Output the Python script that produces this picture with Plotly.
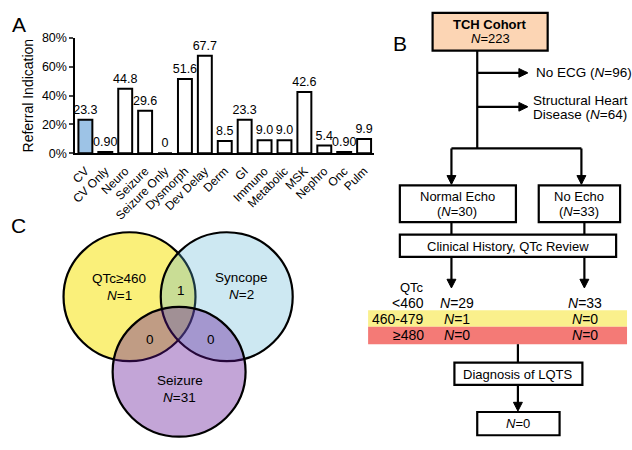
import plotly.graph_objects as go

# Panel A data
categories = ['CV', 'CV Only', 'Neuro', 'Seizure', 'Seizure Only', 'Dysmorph', 'Dev Delay',
              'Derm', 'GI', 'Immuno', 'Metabolic', 'MSK', 'Nephro', 'Onc', 'Pulm']
percent = [23.3, 0.90, 44.8, 29.6, 0, 51.6, 67.7, 8.5, 23.3, 9.0, 9.0, 42.6, 5.4, 0.90, 9.9]
labels = ['23.3', '0.90', '44.8', '29.6', '0', '51.6', '67.7', '8.5', '23.3', '9.0', '9.0',
          '42.6', '5.4', '0.90', '9.9']
y_ticks = [0, 20, 40, 60, 80]
y_ticktext = ['0%', '20%', '40%', '60%', '80%']

# Panel B counts
cohort_n = 223
no_ecg_n = 96
structural_n = 64
normal_echo_n = 30
no_echo_n = 33
qtc_rows = ['<460', '460-479', '≥480']
normal_echo_qtc = [29, 1, 0]
no_echo_qtc = [33, 0, 0]
lqts_n = 0

# Panel C counts
venn_sets = ['QTc≥460', 'Syncope', 'Seizure']
venn_n = [1, 2, 31]
venn_overlaps = [1, 0, 0]  # QTc&Syncope, QTc&Seizure, Syncope&Seizure

W, H = 632, 450
FONT = 'Arial, Liberation Sans, sans-serif'


def px(x):
    return x / W


def py(y):
    return 1 - y / H


bar_colors = ['#9DC3E6'] + ['white'] * (len(categories) - 1)

fig = go.Figure(go.Bar(
    x=categories, y=percent, text=labels, textposition='outside',
    textfont=dict(size=12.5, color='black'), cliponaxis=False, constraintext='none',
    marker=dict(color=bar_colors, line=dict(color='black', width=2)),
    hoverinfo='skip'
))

shapes = []
annotations = []


def line(x0, y0, x1, y1, w=2.2):
    shapes.append(dict(type='line', xref='paper', yref='paper',
                       x0=px(x0), y0=py(y0), x1=px(x1), y1=py(y1),
                       line=dict(color='black', width=w)))


def rect(x0, y0, x1, y1, fill='white'):
    shapes.append(dict(type='rect', xref='paper', yref='paper',
                       x0=px(x0), y0=py(y0), x1=px(x1), y1=py(y1),
                       fillcolor=fill, line=dict(color='black', width=2.2)))


def band(x0, y0, x1, y1, fill):
    shapes.append(dict(type='rect', xref='paper', yref='paper', layer='below',
                       x0=px(x0), y0=py(y0), x1=px(x1), y1=py(y1),
                       fillcolor=fill, line=dict(width=0)))


def head(x, y, direction):
    if direction == 'down':
        pts = [(x - 4.5, y - 9), (x + 4.5, y - 9), (x, y)]
    else:
        pts = [(x - 9, y - 4.5), (x - 9, y + 4.5), (x, y)]
    path = 'M ' + ' L '.join(f'{px(a):.5f},{py(b):.5f}' for a, b in pts) + ' Z'
    shapes.append(dict(type='path', xref='paper', yref='paper', path=path,
                       fillcolor='black', line=dict(color='black', width=1)))


def text(x, y, s, size=13, xanchor='center', color='black'):
    annotations.append(dict(x=px(x), y=py(y), xref='paper', yref='paper', text=s,
                            showarrow=False, xanchor=xanchor, yanchor='middle',
                            font=dict(size=size, color=color, family=FONT)))


# panel letters
text(14, 18, 'A', size=21)
text(398, 38, 'B', size=21)
text(14, 225, 'C', size=21)

# ---- Panel B flowchart ----
band(366, 313, 627, 330, '#FAF08C')
band(366, 330, 627, 348, '#F47A76')

rect(431, 6, 547, 45, fill='#FCD5B4')
text(489, 18, '<b>TCH Cohort</b>', size=13)
text(489, 33, f'<i>N</i>={cohort_n}', size=13)

line(476, 45, 476, 146)
line(476, 68, 526, 68)
head(527, 68, 'right')
text(533, 68, f'No ECG (<i>N</i>={no_ecg_n})', size=13.5, xanchor='left')
line(476, 103, 526, 103)
head(527, 103, 'right')
text(530, 96, 'Structural Heart', size=13.5, xanchor='left')
text(530, 111, f'Disease (<i>N</i>={structural_n})', size=13.5, xanchor='left')

line(450, 146, 581, 146)
line(450, 146, 450, 182)
head(450, 183, 'down')
line(581, 146, 581, 182)
head(581, 183, 'down')

rect(398, 184, 515, 222)
text(456, 196, 'Normal Echo')
text(456, 211, f'(<i>N</i>={normal_echo_n})')
rect(538, 184, 620, 222)
text(579, 196, 'No Echo')
text(579, 211, f'(<i>N</i>={no_echo_n})')

line(450, 222, 450, 235)
line(584, 222, 584, 235)
rect(398, 235, 616, 258)
text(507, 247, 'Clinical History, QTc Review')

line(450, 258, 450, 288)
head(450, 290, 'down')
line(584, 258, 584, 288)
head(584, 290, 'down')

text(424, 290, 'QTc', size=13, xanchor='right')
row_y = [305, 322, 339]
for ry, lab, a, b in zip(row_y, qtc_rows, normal_echo_qtc, no_echo_qtc):
    text(424, ry, lab, size=14, xanchor='right')
    text(456, ry, f'<i>N</i>={a}', size=14)
    text(585, ry, f'<i>N</i>={b}', size=14)

line(517, 348, 517, 367)
rect(453, 367, 582, 390)
text(517, 379, 'Diagnosis of LQTS')
line(517, 390, 517, 415)
head(517, 417, 'down')
rect(476, 418, 559, 442)
text(517, 430, f'<i>N</i>={lqts_n}')

# ---- Panel C venn ----
circles = [
    (125.5, 299, 66.5, 'rgba(250,240,122,1)'),
    (223.5, 299, 66.5, 'rgba(88,178,212,0.3)'),
    (175.5, 376.5, 67, 'rgba(97,18,150,0.38)'),
]
for cx, cy, r, fill in circles:
    shapes.append(dict(type='circle', xref='paper', yref='paper',
                       x0=px(cx - r), x1=px(cx + r), y0=py(cy + r), y1=py(cy - r),
                       fillcolor=fill, line=dict(color='black', width=2.2)))

text(115, 280, venn_sets[0], size=13.5)
text(115, 298, f'<i>N</i>={venn_n[0]}', size=13.5)
text(238, 279, venn_sets[1], size=13.5)
text(238, 297, f'<i>N</i>={venn_n[1]}', size=13.5)
text(176, 385, venn_sets[2], size=13.5)
text(176, 403, f'<i>N</i>={venn_n[2]}', size=13.5)
text(177, 293, str(venn_overlaps[0]), size=13.5)
text(146, 343, str(venn_overlaps[1]), size=13.5)
text(208, 343, str(venn_overlaps[2]), size=13.5)

fig.update_layout(
    width=W, height=H,
    margin=dict(l=0, r=0, t=0, b=0),
    paper_bgcolor='white', plot_bgcolor='white',
    font=dict(family=FONT, color='black'),
    showlegend=False,
    bargap=0.3,
    shapes=shapes,
    annotations=annotations,
    xaxis=dict(domain=[71 / W, 372 / W], tickangle=-45, tickfont=dict(size=12),
               showline=True, linecolor='black', linewidth=2, ticks='',
               ticklabelstandoff=4, showgrid=False, fixedrange=True),
    yaxis=dict(domain=[1 - 151 / H, 1 - 32 / H], range=[0, 80], tickvals=y_ticks,
               ticktext=y_ticktext, tickfont=dict(size=12.5), showline=True, linecolor='black',
               linewidth=2, ticks='outside', ticklen=4, tickwidth=1.5, showgrid=False,
               zeroline=False, fixedrange=True,
               title=dict(text='Referral Indication', font=dict(size=14), standoff=5)),
)

fig.write_html('out.html', config={'displayModeBar': False},
               post_script="document.body.style.margin='0';document.body.style.overflow='hidden';")
